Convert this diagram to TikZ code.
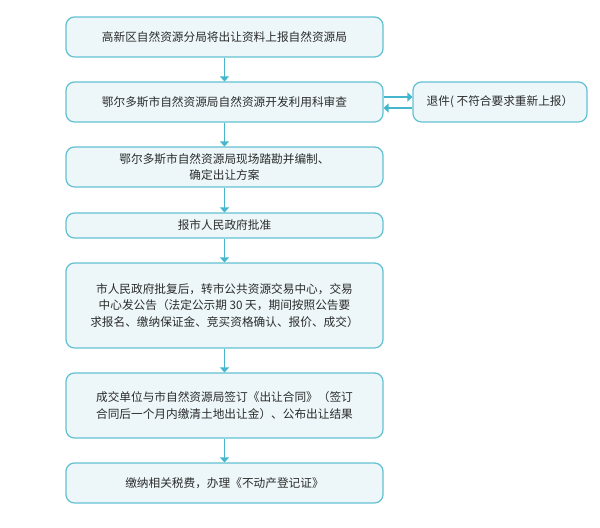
\documentclass[tikz,border=0pt]{standalone}
\usepackage{fontspec}
\newfontfamily\cjk{Noto Sans CJK SC}
\usetikzlibrary{arrows.meta}
\definecolor{lineblue}{HTML}{45B6CB}
\definecolor{boxline}{HTML}{62C1D2}
\definecolor{boxfill}{HTML}{EDF7FA}
\definecolor{txt}{HTML}{2B2B2B}
\tikzset{
flowbox/.style={draw=boxline,fill=boxfill,line width=0.9pt,rounded corners=6pt,minimum width=7.925cm,align=center,inner sep=0pt,text=txt,font=\cjk\fontsize{8.3}{12}\selectfont},
arr/.style={draw=lineblue,line width=1.2pt,-{Triangle[length=3.5pt,width=6.5pt]}}
}
\begin{document}
\begin{tikzpicture}
\useasboundingbox(0,0)rectangle(15,13.2);
\node[flowbox,minimum height=1cm](s1)at(5.6125,12.275){高新区自然资源分局将出让资料上报自然资源局};
\node[flowbox,minimum height=1cm](s2)at(5.6125,10.65){鄂尔多斯市自然资源局自然资源开发利用科审查};
\node[flowbox,minimum height=1cm](s3)at(5.6125,9.025){鄂尔多斯市自然资源局现场踏勘并编制、\\确定出让方案};
\node[flowbox,minimum height=0.625cm](s4)at(5.6125,7.5625){报市人民政府批准};
\node[flowbox,minimum height=2.125cm](s5)at(5.6125,5.5625){市人民政府批复后，转市公共资源交易中心，交易\\中心发公告（法定公示期 30 天，期间按照公告要\\求报名、缴纳保证金、竞买资格确认、报价、成交）};
\node[flowbox,minimum height=1.625cm](s6)at(5.6125,3.0625){成交单位与市自然资源局签订《出让合同》（签订\\合同后一个月内缴清土地出让金）、公布出让结果};
\node[flowbox,minimum height=1cm](s7)at(5.6125,1.125){缴纳相关税费，办理《不动产登记证》};
\node[flowbox,minimum height=1cm,minimum width=4.35cm](back)at(12.5,10.65){退件( 不符合要求重新上报）};
\foreach \a/\b in {s1/s2,s2/s3,s3/s4,s4/s5,s5/s6,s6/s7}{\draw[arr](\a.south)--(\b.north);}
\draw[arr]([yshift=0.125cm]s2.east)--([yshift=0.125cm]back.west);
\draw[arr]([yshift=-0.15cm]back.west)--([yshift=-0.15cm]s2.east);
\end{tikzpicture}
\end{document}
